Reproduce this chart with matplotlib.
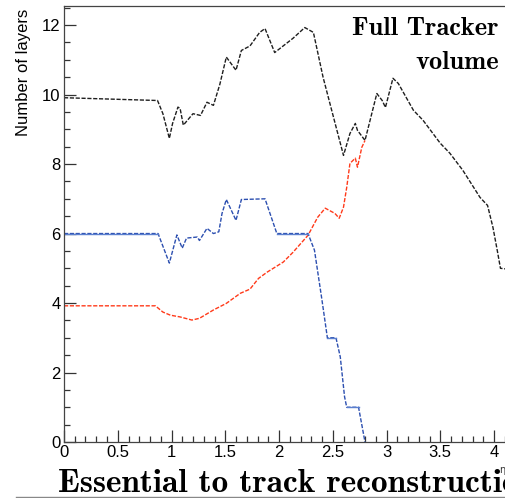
"""Number of tracker layers crossed vs pseudorapidity (slide crop)."""

import matplotlib.pyplot as plt
import numpy as np

# full tracker layer count (black)
eta_all = [0, 0.87, 0.92, 0.98, 1.01, 1.06, 1.08, 1.11, 1.2, 1.27, 1.33, 1.39,
           1.45, 1.51, 1.6, 1.65, 1.73, 1.82, 1.87, 1.96, 2.13, 2.24, 2.32,
           2.38, 2.41, 2.49, 2.60, 2.66, 2.71, 2.73, 2.80, 2.91, 2.96, 2.99,
           3.06, 3.11, 3.25, 3.34, 3.50, 3.59, 3.71, 3.87, 3.94, 3.99, 4.03,
           4.06, 4.2]
layers_all = [9.91, 9.83, 9.45, 8.74, 9.17, 9.64, 9.6, 9.12, 9.45, 9.4, 9.78,
              9.69, 10.3, 11.08, 10.7, 11.27, 11.4, 11.79, 11.9, 11.21, 11.62,
              11.93, 11.79, 10.93, 10.5, 9.55, 8.25, 8.88, 9.17, 8.97, 8.68,
              10.03, 9.83, 9.63, 10.47, 10.32, 9.55, 9.26, 8.6, 8.31, 7.82,
              7.04, 6.81, 6.18, 5.52, 5.0, 4.95]

# blue series
eta_blue = [0, 0.875, 0.98, 1.05, 1.1, 1.14, 1.24, 1.26, 1.33, 1.39, 1.44,
            1.47, 1.51, 1.6, 1.65, 1.87, 1.98, 2.27, 2.33, 2.40, 2.45, 2.53,
            2.57, 2.61, 2.63, 2.74, 2.8]
layers_blue = [6, 6, 5.15, 5.96, 5.58, 5.87, 5.9, 5.8, 6.15, 6.0, 6.05, 6.58,
               6.98, 6.38, 6.98, 7.0, 6.0, 6.0, 5.52, 4.08, 3.0, 3.0, 2.45,
               1.3, 1.0, 1.0, 0.0]

# red series
eta_red = [0, 0.85, 0.92, 0.99, 1.08, 1.19, 1.26, 1.39, 1.51, 1.64, 1.73,
           1.81, 1.89, 2.04, 2.13, 2.27, 2.36, 2.43, 2.52, 2.56, 2.60, 2.63,
           2.66, 2.71, 2.73, 2.77, 2.80]
layers_red = [3.92, 3.92, 3.74, 3.65, 3.6, 3.51, 3.56, 3.8, 3.99, 4.28, 4.4,
              4.71, 4.89, 5.18, 5.46, 5.95, 6.47, 6.73, 6.58, 6.44, 6.76, 7.33,
              8.02, 8.17, 7.91, 8.48, 8.68]

W, H = 506, 498
fig = plt.figure(figsize=(W / 100, H / 100), dpi=100)
ax = fig.add_axes([64 / W, 1 - 442 / H, 451.5 / W, 436 / H])
ax.set_xlim(0, 4.2)
ax.set_ylim(0, 12.55)

dash = (0, (3.0, 1.2))
ax.plot(eta_all, layers_all, color="#1e1e1e", linewidth=1.0, linestyle=dash)
ax.plot(eta_red, layers_red, color="#ff3a1a", linewidth=1.0, linestyle=dash)
ax.plot(eta_blue, layers_blue, color="#2c4fb0", linewidth=1.0, linestyle=dash)
# flat stretches of the blue curve are drawn solid
xb = np.array(eta_blue)
yb = np.array(layers_blue)
for i in range(len(xb) - 1):
    if yb[i] == yb[i + 1]:
        ax.plot(xb[i:i + 2], yb[i:i + 2], color="#5a7fcf", linewidth=1.0)

ax.set_xticks(np.arange(0, 4.01, 0.5))
ax.set_xticklabels(["0", "0.5", "1", "1.5", "2", "2.5", "3", "3.5", "4"])
ax.set_xticks(np.arange(0, 4.21, 0.1), minor=True)
ax.set_yticks([0, 2, 4, 6, 8, 10, 12])
ax.set_yticks(np.arange(0, 12.51, 0.5), minor=True)
ax.tick_params(which="both", direction="in", width=0.9, color="#333333",
               labelsize=12, labelfontfamily="Liberation Sans")
ax.tick_params(which="major", length=8.6)
ax.tick_params(which="minor", length=4.3)
ax.tick_params(axis="x", pad=2.5)
ax.tick_params(axis="y", pad=2.5)
for side in ("top", "left", "bottom"):
    ax.spines[side].set_color("#444444")
    ax.spines[side].set_linewidth(0.9)
ax.spines["right"].set_visible(False)

ax.set_ylabel("Number of layers", fontsize=12, family="Liberation Sans",
              loc="top", va="center")
ax.yaxis.set_label_coords(-0.0886, 0.993)

fig.text(499 / W, 1 - 35 / H, "Full Tracker", fontfamily="cmb10",
         fontsize=19, ha="right", va="baseline")
fig.text(499 / W, 1 - 69 / H, "volume", fontfamily="cmb10",
         fontsize=19, ha="right", va="baseline")
fig.text(499 / W, 1 - 470 / H, "η", fontsize=7, color="#333333",
         ha="left", va="center")
fig.text(58 / W, 1 - 492 / H, "Essential to track reconstruction",
         fontfamily="cmb10", fontsize=24, ha="left", va="baseline")
fig.add_artist(plt.Line2D([16 / W, 1], [1 - 496.5 / H] * 2,
                          color="#888888", linewidth=1.0))

fig.savefig("out.png", dpi=100)
